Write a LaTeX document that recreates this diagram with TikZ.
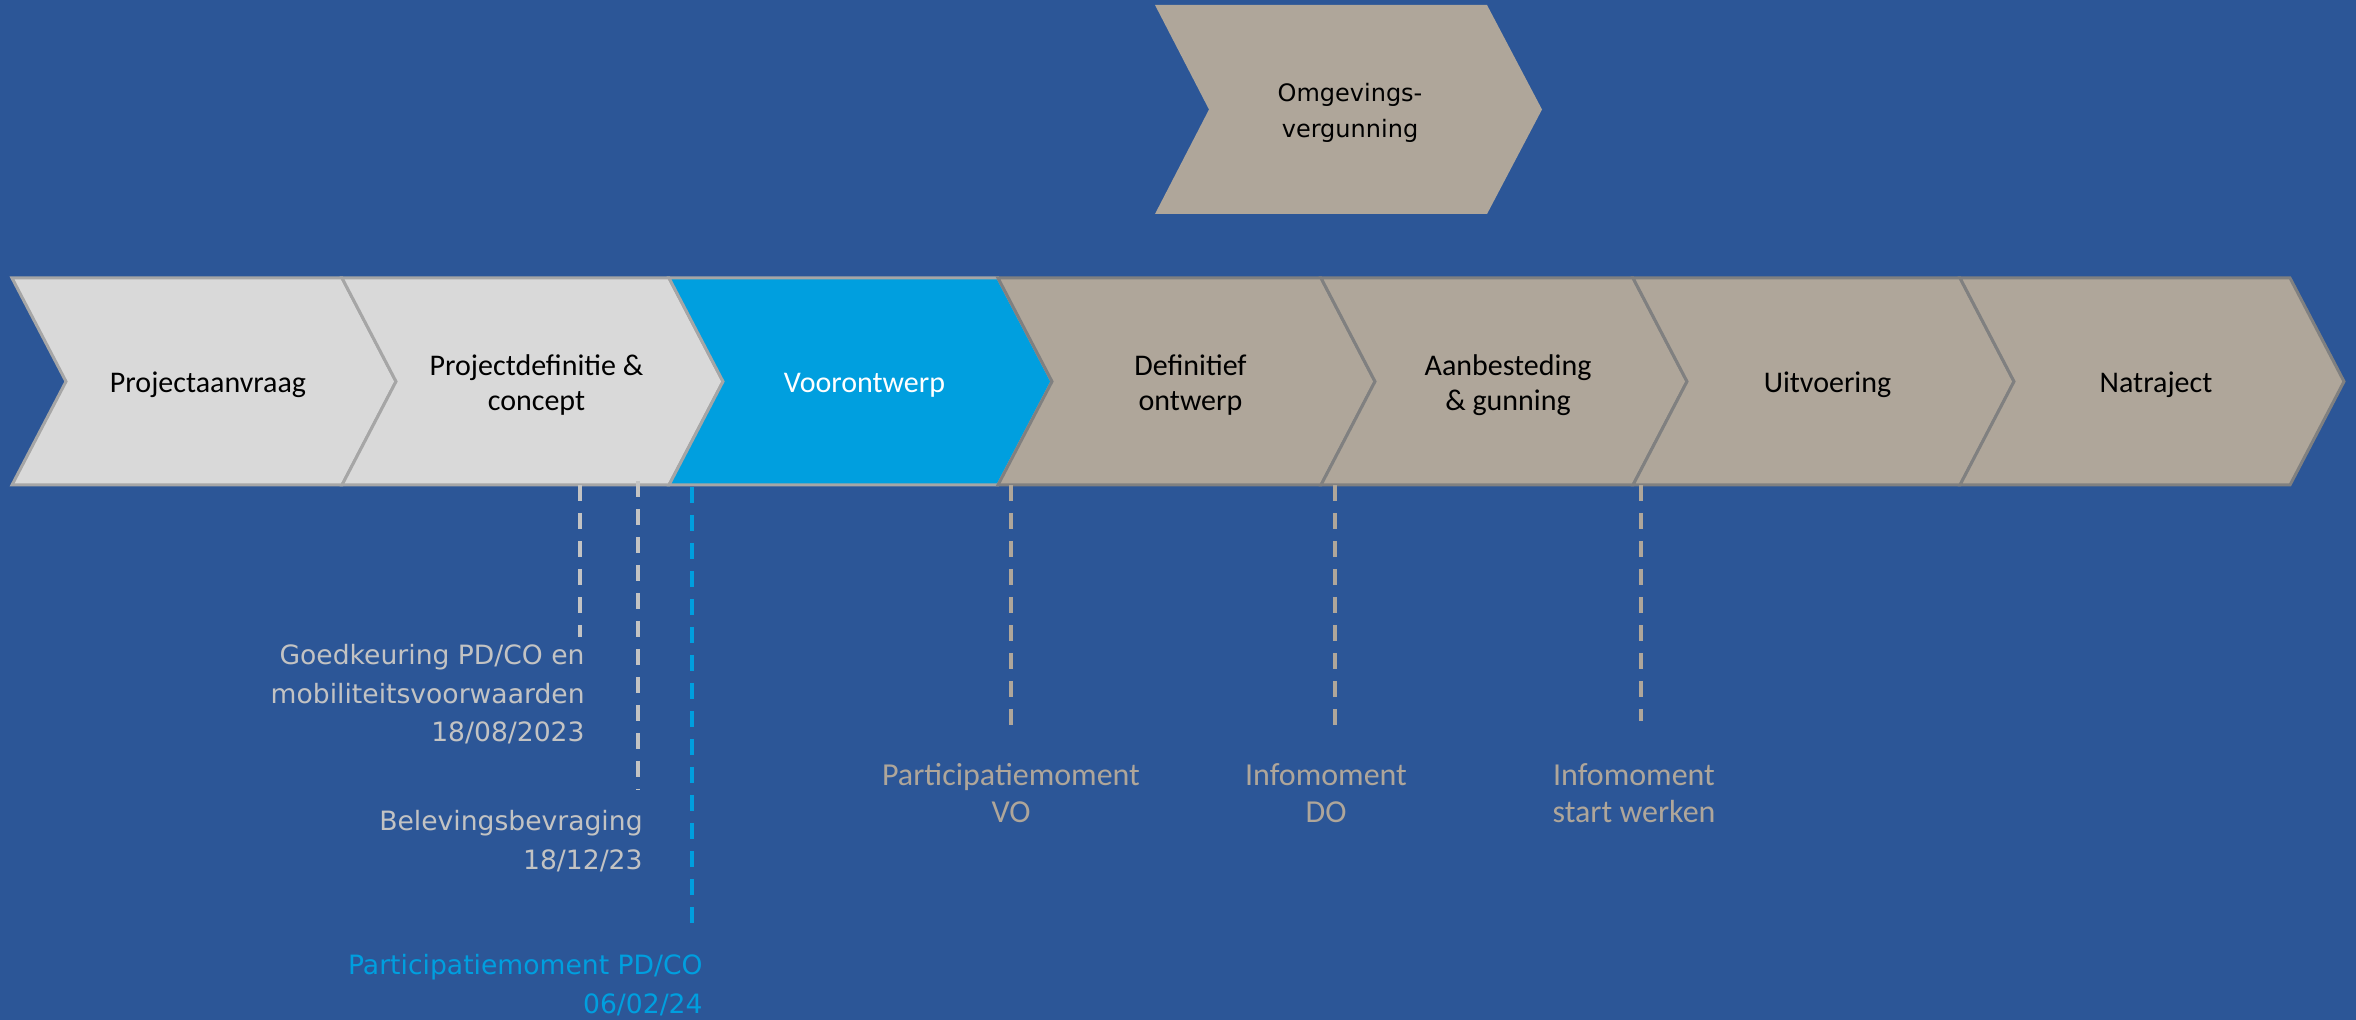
\documentclass[tikz,border=0pt]{standalone}
\usepackage{fontspec}
\setmainfont{Carlito}
\newfontfamily\breedfont{DejaVu Sans}

\definecolor{achtergrond}{RGB}{44,86,151}
\definecolor{lichtgrijs}{RGB}{217,217,217}
\definecolor{randgrijs}{RGB}{166,166,166}
\definecolor{blauw}{RGB}{0,159,223}
\definecolor{taupe}{RGB}{175,166,154}
\definecolor{taupesrand}{RGB}{128,128,128}
\definecolor{lijngrijs}{RGB}{195,195,195}

\tikzset{
	fase/.style={line width=1.5pt, line join=miter},
	licht/.style={fase, fill=lichtgrijs, draw=randgrijs},
	actief/.style={fase, fill=blauw, draw=randgrijs},
	later/.style={fase, fill=taupe, draw=taupesrand},
	fasetekst/.style={font=\fontsize{15}{17.5}\selectfont, align=center, inner sep=0pt},
	mijlpaal/.style={line width=2pt, dash pattern=on 8pt off 6pt},
	notitie/.style={font=\breedfont\fontsize{13.3}{19.25}\selectfont, align=right,
		inner sep=0pt, anchor=north east, text=lijngrijs},
	moment/.style={font=\fontsize{16}{18.5}\selectfont, align=center,
		inner sep=0pt, anchor=north, text=taupe}
}

\begin{document}
\begin{tikzpicture}[x=0.5pt, y=-0.5pt]
		\fill[achtergrond] (0,0) rectangle (2356,1020);
		%
		% fasen
		\foreach \x/\w/\stijl/\kleur/\naam/\tekst in {
			12/330/licht/black/aanvraag/Projectaanvraag,
			342/327/licht/black/definitie/{Projectdefinitie \&\\concept},
			669/329/actief/white/voorontwerp/Voorontwerp,
			998/323/later/black/ontwerp/{Definitief\\ontwerp},
			1321/312/later/black/aanbesteding/{Aanbesteding\\\& gunning},
			1633/327/later/black/uitvoering/Uitvoering,
			1960/330/later/black/natraject/Natraject}
		{
			\draw[\stijl] (\x,278) -- ({\x+\w},278) -- ({\x+\w+54},381.5)
				-- ({\x+\w},485) -- (\x,485) -- ({\x+54},381.5) -- cycle;
			\node[fasetekst, text=\kleur] (\naam) at ({\x+(\w+54)/2+4},385) {\tekst};
		}
		%
		\fill[taupe] (1155,5) -- (1487,5) -- (1542,109.5) -- (1487,214)
			-- (1155,214) -- (1209,109.5) -- cycle;
		\node[font=\breedfont\fontsize{12}{18}\selectfont, align=center, inner sep=0pt]
			(omgeving) at (1350,113) {Omgevings-\\vergunning};
		%
		% mijlpalen
		\coordinate (m1) at (580,485);
		\coordinate (m2) at (638,481);
		\coordinate (m3) at (692,487);
		\coordinate (m4) at (1011,485);
		\coordinate (m5) at (1335,485);
		\coordinate (m6) at (1641,485);
		%
		\node[notitie] (goedkeuring) at (585,644)
			{Goedkeuring PD/CO en\\mobiliteitsvoorwaarden\\18/08/2023};
		\node[notitie] (beleving) at (643,810) {Belevingsbevraging\\18/12/23};
		\node[notitie, text=blauw] (participatiepd) at (703,954)
			{Participatiemoment PD/CO\\06/02/24};
		\node[moment] (participatievo) at (1011,763) {Participatiemoment\\VO};
		\node[moment] (infodo) at (1326,763) {Infomoment\\DO};
		\node[moment] (infostart) at (1634,763) {Infomoment\\start werken};
		%
		\path[mijlpaal]
			(m1) edge[lijngrijs, shorten >=3.5pt] (m1 |- goedkeuring.north)
			(m2) edge[lijngrijs, shorten >=10pt] (m2 |- beleving.north)
			(m3) edge[blauw, shorten >=15.5pt] (m3 |- participatiepd.north)
			(m4) edge[taupe, shorten >=17.5pt] (m4 |- participatievo.north)
			(m5) edge[taupe, shorten >=17.5pt] (m5 |- infodo.north)
			(m6) edge[taupe, shorten >=21pt] (m6 |- infostart.north);
	\end{tikzpicture}
\end{document}
